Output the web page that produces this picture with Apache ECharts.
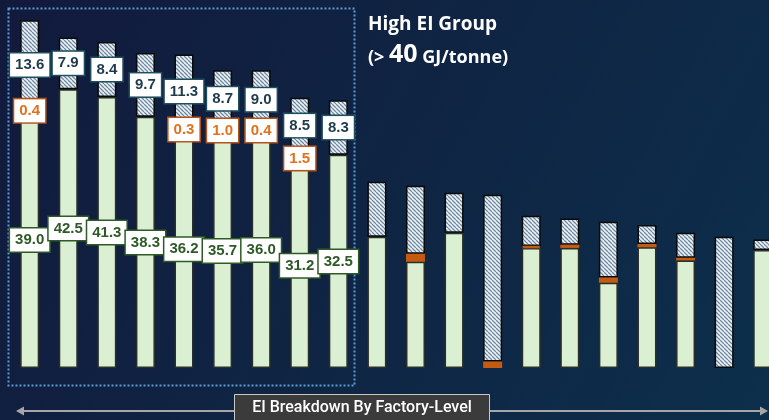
<!DOCTYPE html>
<html><head><meta charset="utf-8">
<script src="https://cdn.jsdelivr.net/npm/echarts@6/dist/echarts.min.js"></script>
<style>html,body{margin:0;padding:0;background:#101c3c;}#c{width:769px;height:420px;}</style>
</head><body><div id="c"></div>
<script>
const categories = ['F1','F2','F3','F4','F5','F6','F7','F8','F9','F10','F11','F12','F13','F14','F15','F16','F17','F18','F19','F20'];
const greenVals  = [39.0,42.5,41.3,38.3,36.2,35.7,36.0,31.2,32.5,20.0,16.2,20.6,0,18.3,18.3,13.0,18.4,16.4,0,18.0];
const orangeVals = [0.4,0,0,0,0.3,1.0,0.4,1.5,0,0,1.2,0,1.0,0.3,0.5,0.8,0.5,0.4,0,0];
const hatchVals  = [13.6,7.9,8.4,9.7,11.3,8.7,9.0,8.5,8.3,8.4,10.4,6.1,25.4,4.6,4.0,8.5,2.9,3.8,20.0,1.6];
const labeledCount = 9;

// hatch pattern
const pc = document.createElement('canvas');
pc.width = 4; pc.height = 4;
const g = pc.getContext('2d');
g.fillStyle = '#eef2f6'; g.fillRect(0,0,4,4);
g.strokeStyle = '#6f8ba3'; g.lineWidth = 1.3;
g.beginPath();
for (const k of [-4,0,4]) { g.moveTo(k,0); g.lineTo(k+4,4); }
g.stroke();

function mk(vals) {
  return vals.map((v,i) => ({
    value: v === 0 ? null : v,
    label: { show: i < labeledCount && v !== 0 }
  }));
}
function labelStyle(text, border) {
  return {
    position: 'inside',
    formatter: p => p.value.toFixed(1),
    color: text, fontWeight: 'bold', fontSize: 15,
    fontFamily: 'Liberation Sans, Arial, sans-serif',
    backgroundColor: '#ffffff', borderColor: border, borderWidth: 1.5,
    padding: [4, 5, 3, 5], lineHeight: 16
  };
}

const chart = echarts.init(document.getElementById('c'), null, {renderer: 'canvas'});
chart.setOption({
  animation: false,
  grid: { left: 10.4, width: 771.6, top: 7.2, height: 360.8, outerBoundsMode: 'none', containLabel: false },
  xAxis: { type: 'category', data: categories, show: false },
  yAxis: { type: 'value', min: 0, max: 55, show: false, splitLine: {show: false} },
  graphic: [
    { type: 'rect', z: -100, silent: true, shape: {x:0,y:0,width:769,height:420},
      style: { fill: { type: 'linear', x: 0, y: 0, x2: 1, y2: 1,
        colorStops: [{offset:0,color:'#121a3c'},{offset:1,color:'#0c2f4b'}] } } },
    { type: 'rect', z: -50, silent: true, shape: {x:8.5,y:8.5,width:346,height:377},
      style: { fill: null, stroke: '#5b9bd5', lineWidth: 2, lineDash: [2, 2] } },
    { type: 'text', left: 368, top: 15, z: 10,
      style: { text: 'High EI Group', fill: '#ffffff', font: 'bold 19px "Open Sans", sans-serif' } },
    { type: 'text', left: 368, top: 42, z: 10,
      style: { text: '{a|(> }{b|40}{a| GJ/tonne)}', fill: '#ffffff',
        rich: { a: {fontSize: 18, fontWeight: 'bold', fontFamily: 'Open Sans, sans-serif', fill:'#fff', verticalAlign:'bottom'},
                b: {fontSize: 25, fontWeight: 'bold', fontFamily: 'Open Sans, sans-serif', fill:'#fff', verticalAlign:'bottom'} } } },
    { type: 'line', z: 5, silent: true, shape: {x1: 22, y1: 411, x2: 763, y2: 411},
      style: { stroke: '#a6a6a6', lineWidth: 2 } },
    { type: 'polygon', z: 5, silent: true, shape: {points: [[16,411],[24,406.5],[24,415.5]]}, style: {fill: '#a6a6a6'} },
    { type: 'polygon', z: 5, silent: true, shape: {points: [[768,411],[760,406.5],[760,415.5]]}, style: {fill: '#a6a6a6'} },
    { type: 'rect', z: 6, silent: true, shape: {x: 234.5, y: 394.5, width: 255, height: 30},
      style: { fill: '#3b3b3b', stroke: '#c8c8c8', lineWidth: 1 } },
    { type: 'text', z: 7, x: 362, y: 408, silent: true,
      style: { text: 'EI Breakdown By Factory-Level', fill: '#ffffff', align: 'center', verticalAlign: 'middle',
        font: '500 16px Roboto, sans-serif' } }
  ],
  series: [
    { name: 'green', type: 'bar', stack: 's', barWidth: 19, data: mk(greenVals),
      itemStyle: { color: '#dbf0d2', borderColor: '#2b2f2b', borderWidth: 1.5 },
      label: labelStyle('#2d5a27', '#2d5a27') },
    { name: 'orange', type: 'bar', stack: 's', barWidth: 19, z: 3, data: mk(orangeVals),
      itemStyle: { color: '#c55a11', borderColor: '#c55a11', borderWidth: 2.5 },
      label: labelStyle('#e2711d', '#b4531a') },
    { name: 'hatch', type: 'bar', stack: 's', barWidth: 19, data: mk(hatchVals),
      itemStyle: { color: { image: pc, repeat: 'repeat' }, borderColor: '#0a0a0a', borderWidth: 1.5 },
      label: labelStyle('#1e3a4c', '#1f4e5f') }
  ]
});
</script></body></html>
